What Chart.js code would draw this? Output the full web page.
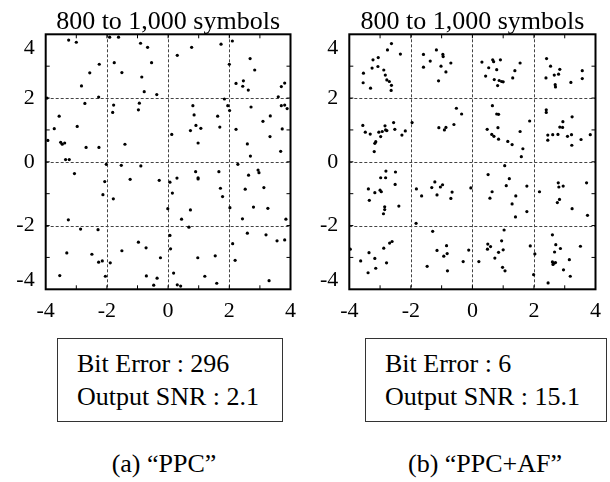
<!DOCTYPE html>
<html>
<head>
<meta charset="utf-8">
<script src="https://cdn.jsdelivr.net/npm/chart.js@4.4.0/dist/chart.umd.min.js"></script>
<style>
  body { margin: 0; background: #fff; }
  #page { position: relative; width: 610px; height: 482px; overflow: hidden; font-family: "Liberation Serif", "DejaVu Serif", "Noto Serif", serif; color: #000; }
  .plot { position: absolute; top: 0; }
  .info { position: absolute; top: 338px; height: 84px; border: 1px solid #333; box-sizing: border-box; }
  .info-text { position: absolute; top: 347px; font-size: 26px; line-height: 33px; white-space: nowrap; }
  .caption { position: absolute; top: 451px; font-size: 26px; line-height: 26px; white-space: nowrap; transform: translateX(-50%); }
</style>
</head>
<body>
<div id="page">
  <canvas id="ppcChart" class="plot" width="305" height="330" style="left:0"></canvas>
  <canvas id="afChart" class="plot" width="305" height="330" style="left:305px"></canvas>

  <div class="info" style="left:57px; width:226px"></div>
  <div class="info-text" id="ppcInfo" style="left:77px"></div>
  <div class="info" style="left:365px; width:242px"></div>
  <div class="info-text" id="afInfo" style="left:385px"></div>

  <div class="caption" id="ppcCaption" style="left:164px"></div>
  <div class="caption" id="afCaption" style="left:485px"></div>
</div>

<script>
const TITLE = '800 to 1,000 symbols';
const TICK_VALUES = [-4, -2, 0, 2, 4];
const X_TICK_LABELS = ['-4', '-2', '0', '2', '4'];
const Y_TICK_LABELS = ['-4', '-2', '0', '2', '4'];
const GRID_VALUES = [-2, 0, 2];
const MINOR_VALUES = [-3, -2, -1, 0, 1, 2, 3];

const PPC_INFO = ['Bit Error : 296', 'Output SNR : 2.1'];
const AF_INFO = ['Bit Error : 6', 'Output SNR : 15.1'];
const PPC_CAPTION = '(a) \u201cPPC\u201d';
const AF_CAPTION = '(b) \u201cPPC+AF\u201d';

// (a) PPC constellation
const PPC_X = [
  -3.25, -3.00, -1.91, -1.62, -0.90, -0.67, 0.77, 0.30, 1.73, 2.10,
  -2.25, -1.76, -0.54, -2.56, -1.51, -0.86, -2.83, -0.78, -0.37, -2.27,
  -3.96, 2.00, 2.68, 2.83, 2.22, 2.46, 2.44, 2.62, 3.70, 3.81,
  3.60, 1.84, 1.95, 2.01, 2.71, 3.70, 3.81, 3.89, -2.72, -3.56,
  -3.72, -2.97, -3.93, -3.51, -3.46, -3.38, -2.68, -2.26, -1.78, -1.81,
  -0.94, -0.97, -1.41, 0.81, 0.85, 0.12, 0.73, 0.91, 1.07, 0.98,
  1.62, 1.69, 2.22, 3.10, 3.34, 2.59, 3.33, 3.73, 3.68, 2.69,
  -3.35, -3.23, -3.06, -2.02, -2.07, -2.13, -1.53, -0.89, -1.24, -1.79,
  -0.29, 0.06, 0.29, 0.14, -0.01, 0.90, 0.98, 0.98, 1.66, 1.71,
  1.78, 0.73, 0.44, 0.68, 2.02, 2.28, 2.63, 2.94, 2.97, 2.52,
  3.13, 2.79, 3.26, 2.43, 2.59, 3.85, 3.20, 3.56, 3.81, -3.26,
  -2.86, -2.29, -3.31, -2.49, -2.27, -2.15, -1.89, -1.51, -0.97, -0.72,
  -0.25, 0.06, 0.08, 0.18, 0.97, 1.54, 2.11, 2.19, -3.54, -2.05,
  -0.71, -0.36, -0.47, 0.30, 0.41, 1.20, 1.59, 3.30
];
const PPC_Y = [
  3.82, 3.75, 3.91, 3.91, 3.72, 3.59, 3.59, 3.34, 3.69, 3.79,
  3.06, 3.11, 3.11, 2.79, 2.80, 2.66, 2.38, 2.20, 2.11, 2.03,
  2.00, 3.06, 3.24, 2.88, 2.46, 2.54, 2.37, 2.25, 2.36, 2.47,
  2.04, 1.97, 1.76, 1.61, 1.72, 1.76, 1.78, 1.67, 1.83, 1.43,
  1.04, 1.11, 0.67, 0.61, 0.55, 0.59, 0.45, 0.45, 1.78, 1.55,
  1.84, 1.63, 0.55, 1.76, 1.47, 0.86, 0.98, 1.14, 1.05, 0.59,
  1.43, 1.09, 1.02, 1.27, 1.44, 0.56, 0.79, 1.03, 0.33, 0.18,
  0.07, 0.07, -0.37, -0.08, -0.62, -1.03, -0.11, -0.13, -0.55, -1.16,
  -0.58, -0.64, -0.51, -0.98, -1.47, -0.31, -0.50, -0.54, -0.31, -0.83,
  -1.09, -1.51, -1.80, -2.05, -1.44, -0.08, -0.42, -0.26, -0.34, -0.86,
  -0.81, -1.42, -1.46, -1.79, -2.24, -1.80, -2.29, -2.48, -2.45, -1.82,
  -2.11, -2.13, -2.86, -2.90, -3.15, -3.11, -3.17, -2.79, -2.52, -2.70,
  -3.01, -2.31, -2.73, -3.49, -3.01, -2.95, -2.57, -3.09, -3.57, -3.59,
  -3.58, -3.65, -3.87, -3.86, -3.90, -3.59, -3.81, -3.73
];

// (b) PPC+AF constellation
const AF_X = [
  -2.63, -2.76, -2.34, -3.54, -3.23, -3.06, -3.26, -3.07, -2.88, -2.83,
  -2.78, -2.70, -2.63, -2.64, -3.55, -3.31, -1.59, -1.37, -1.17, -0.96,
  -0.95, -0.70, -1.59, -1.02, -0.86, -1.10, 0.31, 0.66, 0.69, 0.91,
  0.53, 0.79, 0.43, 0.71, 0.87, 0.95, 0.82, 1.00, 1.38, 1.55,
  1.31, 2.41, 2.54, 2.84, 2.80, 2.66, 2.39, 2.69, 2.70, 3.20,
  3.57, 3.57,
  -3.56, -3.48, -3.32, -3.14, -3.17, -3.19, -3.04, -2.98, -2.93, -2.84,
  -2.82, -2.78, -2.56, -2.52, -2.29, -2.18, -1.96, -1.09, -0.91, -0.86,
  -0.60, -0.52, -0.35, 0.65, 0.79, 0.85, 0.83, 0.48, 0.63, 0.70,
  0.85, 1.15, 1.29, 1.55, 1.64, 1.59, 1.86, 2.40, 2.40, 2.94,
  2.84, 2.93, 3.24, 2.45, 2.45, 2.61, 2.78, 3.09, 3.22, 3.23,
  3.53, 3.83,
  -2.81, -2.82, -2.98, -2.50, -2.51, -3.38, -3.17, -3.00, -2.96, -3.35,
  -2.39, -2.85, -2.85, -2.89, -1.82, -1.65, -1.32, -1.22, -1.15, -1.04,
  -0.97, -0.66, -0.70, -0.05, -1.83, 0.51, 1.05, 1.20, 1.10, 0.64,
  0.57, 1.41, 1.29, 1.77, 1.40, 1.77, 2.18, 2.79, 2.81, 2.95,
  2.83, 2.76, 3.24, 3.71, 3.74,
  -1.29, -3.97, -3.63, -3.36, -3.17, -2.88, -2.69, -2.61, -2.79, -3.14,
  -3.39, -1.15, -0.84, -0.82, -0.93, -1.47, -0.81, -0.30, -0.12, 0.21,
  0.50, 0.59, 0.49, 1.03, 0.95, 1.00, 0.85, 0.73, 0.98, 1.06,
  1.88, 2.03, 1.99, 2.60, 2.71, 2.86, 2.67, 2.60, 2.65, 2.70,
  2.62, 3.15, 2.96, 3.18, 2.46, 3.51
];
const AF_Y = [
  3.71, 3.51, 3.38, 2.78, 3.20, 3.27, 2.94, 2.99, 2.88, 2.72,
  2.57, 2.52, 2.40, 2.24, 2.48, 2.31, 3.37, 3.16, 3.51, 3.37,
  3.30, 3.10, 2.97, 3.00, 2.82, 2.54, 3.13, 3.20, 3.14, 3.20,
  2.95, 2.89, 2.69, 2.58, 2.55, 2.52, 2.39, 2.51, 2.86, 3.10,
  2.63, 3.24, 3.00, 2.90, 2.75, 2.72, 2.63, 2.42, 2.35, 2.49,
  2.86, 2.61,
  1.14, 0.93, 0.87, 0.63, 0.58, 0.32, 0.93, 0.79, 0.95, 1.13,
  1.00, 0.98, 1.23, 1.02, 0.84, 0.97, 1.23, 1.07, 1.00, 1.08,
  1.17, 1.68, 1.50, 1.76, 1.50, 1.49, 1.07, 1.02, 0.86, 0.80,
  0.71, 0.64, 0.54, 0.95, 0.41, 0.16, 1.28, 1.63, 1.55, 1.26,
  1.09, 1.08, 1.41, 0.84, 0.68, 0.85, 0.86, 0.80, 0.85, 0.52,
  0.70, 0.85,
  -0.29, -0.50, -0.50, -0.32, -0.71, -0.85, -0.97, -0.89, -0.94, -1.21,
  -1.39, -1.41, -1.50, -1.63, -0.85, -1.07, -0.81, -0.63, -1.04, -0.79,
  -0.72, -0.95, -1.15, -0.82, -1.93, -0.40, -0.12, -0.53, -0.75, -0.94,
  -1.14, -1.07, -1.32, -0.76, -1.73, -1.56, -0.94, -0.66, -0.79, -0.76,
  -1.18, -1.28, -1.47, -0.66, -1.68,
  -2.18, -2.74, -3.11, -2.85, -3.03, -2.71, -2.55, -2.50, -3.17, -3.34,
  -3.48, -2.78, -2.63, -2.88, -2.96, -3.28, -3.42, -3.13, -2.77, -3.13,
  -2.58, -2.66, -2.74, -2.14, -2.48, -2.76, -2.84, -3.02, -3.31, -3.42,
  -2.64, -2.89, -3.54, -2.29, -2.60, -2.72, -2.83, -3.14, -3.18, -3.16,
  -3.22, -3.07, -3.39, -3.59, -3.80, -2.65
];

const SERIF = '"Liberation Serif", "DejaVu Serif", "Noto Serif", serif';
Chart.defaults.font.family = SERIF;
Chart.defaults.color = '#000';

document.getElementById('ppcInfo').innerHTML = PPC_INFO.join('<br>');
document.getElementById('afInfo').innerHTML = AF_INFO.join('<br>');
document.getElementById('ppcCaption').textContent = PPC_CAPTION;
document.getElementById('afCaption').textContent = AF_CAPTION;

// frame, dashed grid, little inside ticks, title over the plot box
const framePlugin = {
    id: 'frame',
    beforeDatasetsDraw(chart) {
        const { ctx, chartArea: a, scales: { x, y } } = chart;
        ctx.save();
        ctx.strokeStyle = '#444';
        ctx.lineWidth = 1;
        ctx.setLineDash([3, 2]);
        GRID_VALUES.forEach(v => {
            const px = Math.round(x.getPixelForValue(v)) + 0.5;
            const py = Math.round(y.getPixelForValue(v)) + 0.5;
            ctx.beginPath();
            ctx.moveTo(px, a.top); ctx.lineTo(px, a.bottom);
            ctx.moveTo(a.left, py); ctx.lineTo(a.right, py);
            ctx.stroke();
        });
        ctx.restore();
    },
    afterDatasetsDraw(chart) {
        const { ctx, chartArea: a, scales: { x, y } } = chart;
        ctx.save();
        ctx.strokeStyle = '#000';
        ctx.lineWidth = 1;
        const len = 4;
        MINOR_VALUES.forEach(v => {
            const px = x.getPixelForValue(v);
            const py = y.getPixelForValue(v);
            ctx.beginPath();
            ctx.moveTo(px, a.bottom); ctx.lineTo(px, a.bottom - len);
            ctx.moveTo(px, a.top); ctx.lineTo(px, a.top + len);
            ctx.moveTo(a.left, py); ctx.lineTo(a.left + len, py);
            ctx.moveTo(a.right, py); ctx.lineTo(a.right - len, py);
            ctx.stroke();
        });
        ctx.lineWidth = 2;
        ctx.strokeRect(a.left, a.top, a.right - a.left, a.bottom - a.top);

        ctx.fillStyle = '#000';
        ctx.font = '26px ' + SERIF;
        ctx.textAlign = 'center';
        ctx.textBaseline = 'alphabetic';
        ctx.fillText(TITLE, (a.left + a.right) / 2, 29);
        ctx.restore();
    }
};

function makePlot(canvasId, xs, ys, axisWidth, rightPad) {
    const points = xs.map((v, i) => ({ x: v, y: ys[i] }));
    return new Chart(document.getElementById(canvasId), {
        type: 'scatter',
        data: {
            datasets: [{
                data: points,
                backgroundColor: '#000',
                borderColor: '#000',
                pointRadius: 1.6,
                pointBorderWidth: 0
            }]
        },
        options: {
            responsive: false,
            animation: false,
            devicePixelRatio: 1,
            layout: { padding: { top: 34.3, right: rightPad, bottom: 0, left: 0 } },
            scales: {
                x: {
                    type: 'linear',
                    min: -4,
                    max: 4,
                    afterBuildTicks: s => { s.ticks = TICK_VALUES.map(v => ({ value: v })); },
                    afterFit: s => { s.height = 40.7; },
                    grid: { display: false, drawTicks: false },
                    border: { display: false },
                    ticks: {
                        autoSkip: false,
                        maxRotation: 0,
                        padding: 9,
                        font: { size: 22 },
                        callback: (v, i) => X_TICK_LABELS[i]
                    }
                },
                y: {
                    type: 'linear',
                    min: -4,
                    max: 4,
                    // end labels sit a little inside the box, as in the original
                    afterBuildTicks: s => {
                        s.ticks = TICK_VALUES.map(v => ({ value: v === 4 ? 3.55 : v === -4 ? -3.7 : v }));
                    },
                    afterFit: s => { s.width = axisWidth; },
                    grid: { display: false, drawTicks: false },
                    border: { display: false },
                    ticks: {
                        autoSkip: false,
                        padding: 11,
                        font: { size: 22 },
                        callback: (v, i) => Y_TICK_LABELS[i]
                    }
                }
            },
            plugins: {
                legend: { display: false },
                tooltip: { enabled: false }
            }
        },
        plugins: [framePlugin]
    });
}

makePlot('ppcChart', PPC_X, PPC_Y, 45.7, 9);
makePlot('afChart', AF_X, AF_Y, 44.3, 9.3);
</script>
</body>
</html>
